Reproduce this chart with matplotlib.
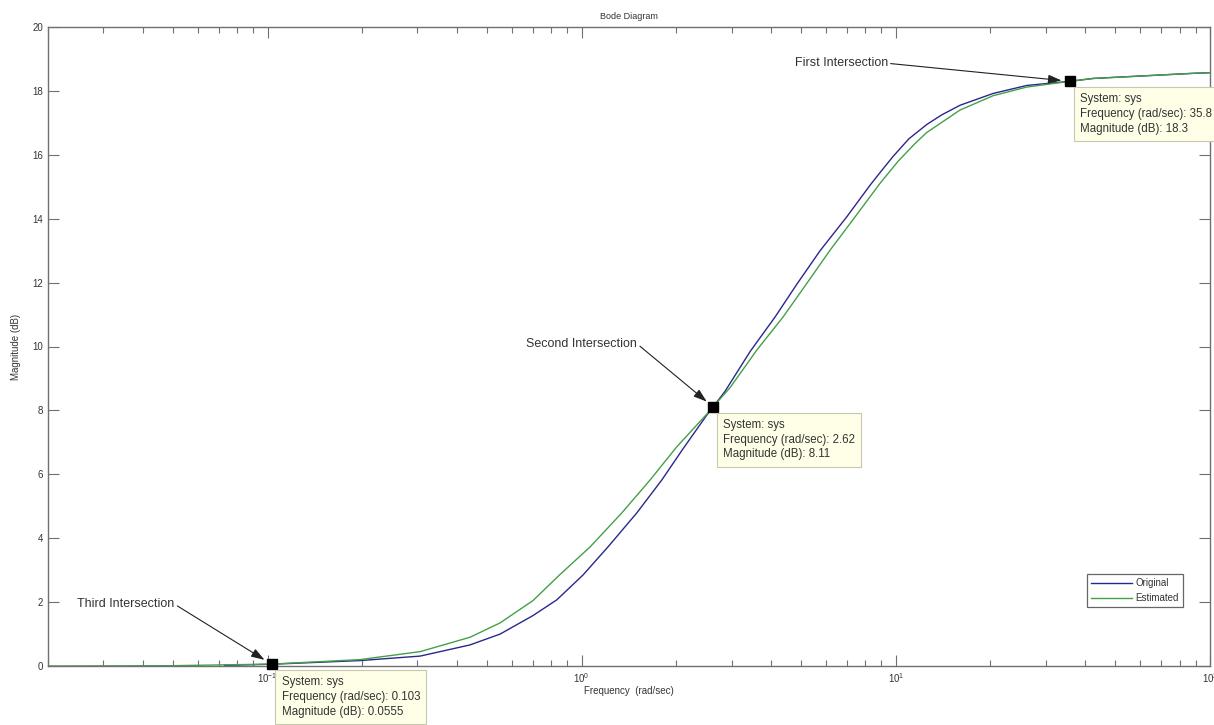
import matplotlib
matplotlib.use("Agg")
from matplotlib import pyplot as plt
from matplotlib.ticker import LogLocator, NullFormatter

plt.rcParams['font.family'] = ['Liberation Sans', 'DejaVu Sans']

# magnitude response of the original system (rad/sec, dB)
freqOriginal = [0.073, 0.103, 0.197, 0.306, 0.441, 0.55, 0.70, 0.833, 1.01, 1.213,
                1.497, 1.798, 2.102, 2.50, 2.62, 2.86, 3.44, 4.13, 4.84, 5.74,
                6.98, 8.28, 9.0, 9.8, 11.0, 12.55, 14.0, 16.0, 20.4, 26.1,
                35.8, 42.5, 61.3, 88.4, 100]
magOriginal = [0.02, 0.0555, 0.17, 0.31, 0.66, 1.0, 1.58, 2.07, 2.85, 3.73,
               4.79, 5.82, 6.8, 7.85, 8.11, 8.6, 9.85, 10.93, 11.95, 13.0,
               14.06, 15.05, 15.5, 15.95, 16.5, 16.95, 17.25, 17.55, 17.92, 18.17,
               18.3, 18.39, 18.47, 18.55, 18.57]

# magnitude response of the estimated model
freqEstimated = [0.02, 0.05, 0.103, 0.197, 0.306, 0.441, 0.55, 0.70, 0.85, 1.064,
                 1.341, 1.65, 2.007, 2.50, 2.62, 2.97, 3.61, 4.38, 5.21, 6.18,
                 7.42, 8.91, 10.17, 11.5, 12.55, 16.0, 20.4, 26.1, 35.8, 42.5,
                 61.3, 88.4, 100]
magEstimated = [0.0, 0.01, 0.06, 0.2, 0.45, 0.9, 1.35, 2.05, 2.85, 3.73,
                4.79, 5.82, 6.86, 7.88, 8.11, 8.72, 9.89, 10.93, 11.98, 13.02,
                14.06, 15.11, 15.8, 16.35, 16.7, 17.4, 17.85, 18.12, 18.3, 18.39,
                18.47, 18.55, 18.57]

# data tips placed on the intersections
tipNames = ['First Intersection', 'Second Intersection', 'Third Intersection']
tipFreq = [35.8, 2.62, 0.103]
tipMag = [18.3, 8.11, 0.0555]
tipFreqText = ['35.8', '2.62', '0.103']
tipMagText = ['18.3', '8.11', '0.0555']
# right end of each label, in pixels relative to its data tip
labelOffset = [(-182, 18), (-76, 63), (-97, 60)]

W, H = 1214, 725
fig = plt.figure(figsize=(W / 100, H / 100), dpi=100)
ax = fig.add_axes([48 / W, 1 - 666 / H, (1210 - 48) / W, (666 - 27) / H])

axisGrey = '#707070'
textGrey = '#333333'

ax.semilogx(freqOriginal, magOriginal, color='#28288c', lw=1.0, label='Original')
ax.semilogx(freqEstimated, magEstimated, color='#43a047', lw=1.0, label='Estimated')

ax.set_xlim(0.02, 100)
ax.set_ylim(0, 20)
ax.set_yticks(range(0, 21, 2))
ax.xaxis.set_major_locator(LogLocator(base=10, numticks=10))
ax.xaxis.set_minor_locator(LogLocator(base=10, subs=range(2, 10), numticks=20))
ax.xaxis.set_minor_formatter(NullFormatter())

ax.tick_params(which='both', direction='in', top=True, right=True,
               colors=axisGrey, labelcolor=textGrey, labelsize=7)
ax.tick_params(which='major', length=8, width=0.8)
ax.tick_params(which='minor', length=4.5, width=0.8)
for spine in ax.spines.values():
    spine.set_color(axisGrey)
    spine.set_linewidth(1.0)

ax.set_title('Bode Diagram', fontsize=6.5, color=textGrey, pad=6)
ax.set_xlabel('Frequency  (rad/sec)', fontsize=7, color=textGrey, labelpad=1)
ax.set_ylabel('Magnitude (dB)', fontsize=7, color=textGrey, labelpad=8)

for name, f, m, fText, mText, off in zip(tipNames, tipFreq, tipMag, tipFreqText,
                                         tipMagText, labelOffset):
    ax.plot([f], [m], marker='s', color='black', markersize=6.5, zorder=5,
            clip_on=False)
    ax.annotate(name, xy=(f, m), xycoords='data',
                xytext=off, textcoords='offset pixels',
                fontsize=9, color=textGrey, ha='right', va='center',
                arrowprops=dict(arrowstyle='-|>,head_length=0.9,head_width=0.3',
                                color='#222222', lw=0.8, relpos=(1.0, 0.5),
                                shrinkA=0, shrinkB=6))
    tip = 'System: sys\nFrequency (rad/sec): %s\nMagnitude (dB): %s' % (fText, mText)
    ax.annotate(tip, xy=(f, m), xycoords='data',
                xytext=(10, -12), textcoords='offset pixels',
                fontsize=8.3, color=textGrey, ha='left', va='top',
                linespacing=1.3, annotation_clip=False, zorder=6,
                bbox=dict(boxstyle='square,pad=0.55', fc='#ffffe8',
                          ec='#c8c8b0', lw=0.8))

leg = ax.legend(loc='lower right', bbox_to_anchor=(1183 / W, 1 - 607 / H),
                bbox_transform=fig.transFigure, borderaxespad=0, fontsize=7,
                frameon=True, fancybox=False, handlelength=4.2,
                handletextpad=0.4, borderpad=0.4, labelspacing=0.5)
leg.get_frame().set_edgecolor('#404040')
leg.get_frame().set_linewidth(0.9)
for t in leg.get_texts():
    t.set_color(textGrey)

fig.savefig('out.png', dpi=100, facecolor='white')
